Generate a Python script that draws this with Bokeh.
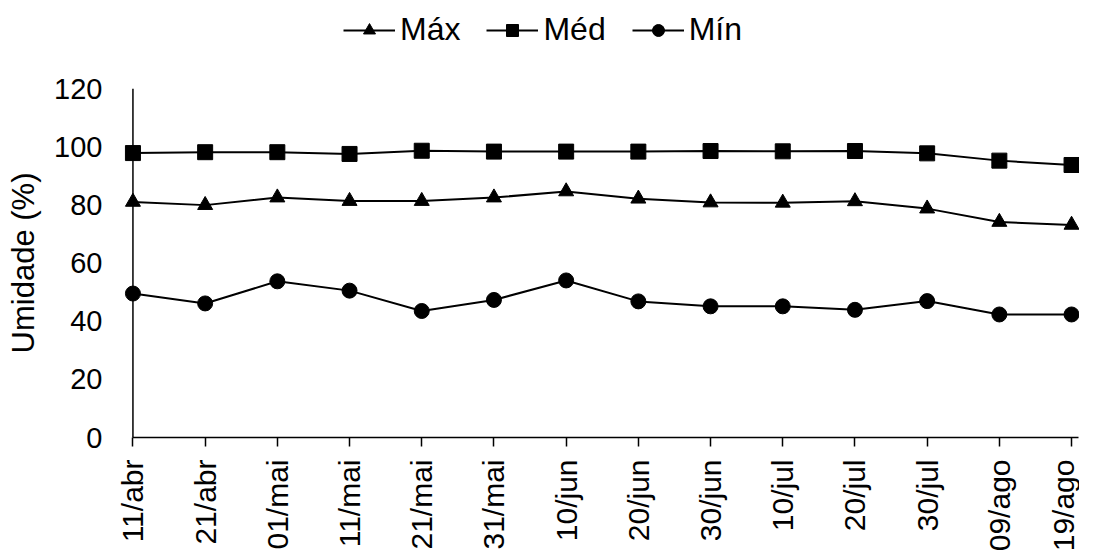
import math
from bokeh.plotting import figure
from bokeh.layouts import column
from bokeh.models import FixedTicker, Span, Legend, LegendItem, Range1d
from bokeh.embed import file_html
from bokeh.resources import INLINE

dates = ["11/abr", "21/abr", "01/mai", "11/mai", "21/mai", "31/mai", "10/jun",
         "20/jun", "30/jun", "10/jul", "20/jul", "30/jul", "09/ago", "19/ago"]
max_vals = [81.0, 79.9, 82.5, 81.3, 81.3, 82.5, 84.6, 82.1, 80.8, 80.7, 81.2, 78.7, 74.1, 73.1]
med_vals = [97.8, 98.1, 98.1, 97.5, 98.6, 98.3, 98.3, 98.3, 98.5, 98.4, 98.5, 97.7, 95.2, 93.7]
min_vals = [49.5, 46.1, 53.7, 50.5, 43.5, 47.3, 54.0, 46.8, 45.1, 45.1, 43.9, 46.9, 42.3, 42.3]
y_ticks = [0, 20, 40, 60, 80, 100, 120]
series_names = ["Máx", "Méd", "Mín"]
markers = ["triangle", "square", "circle"]
series_vals = [max_vals, med_vals, min_vals]

FONT = "Liberation Sans"
xs = list(range(len(dates)))

# ---- legend strip (its own small figure above the chart; data lies outside its view) ----
pl = figure(width=1079, height=68, output_backend="svg", toolbar_location=None,
            x_range=Range1d(-10, -9), y_range=Range1d(-10, -9),
            x_axis_location=None, y_axis_location=None, min_border=0)
pl.outline_line_color = None
pl.xgrid.visible = False
pl.ygrid.visible = False
leg_items = []
for name, mk, vals in zip(series_names, markers, series_vals):
    lr = pl.line(xs, vals, line_color="black", line_width=2)
    mr = pl.scatter(xs, vals, marker=mk, size=15, fill_color="black", line_color="black")
    leg_items.append(LegendItem(label=name, renderers=[lr, mr]))
legend = Legend(items=leg_items, orientation="horizontal", location=(225, 20),
                glyph_width=52, glyph_height=30, label_standoff=5, spacing=26,
                padding=2, margin=0, border_line_color=None, background_fill_alpha=0,
                label_text_font=FONT, label_text_font_size="32px", label_text_color="black")
pl.add_layout(legend, "center")

# ---- main chart ----
p = figure(width=1079, height=486, output_backend="svg", toolbar_location=None,
           x_range=Range1d(-0.2, 13.11), y_range=Range1d(0, 120),
           min_border_left=118, min_border_right=0, min_border_top=20, min_border_bottom=114)
p.outline_line_color = None
p.xgrid.visible = False
p.ygrid.visible = False

xa = p.xaxis[0]
xa.ticker = FixedTicker(ticks=xs)
xa.major_label_overrides = {i: d for i, d in enumerate(dates)}
xa.major_label_orientation = math.pi / 2
xa.bounds = (0, 13.1)
xa.axis_line_color = "black"
xa.axis_line_width = 1.5
xa.major_tick_line_color = "black"
xa.major_tick_line_width = 1.5
xa.major_tick_out = 9
xa.major_tick_in = 0
xa.minor_tick_out = 0
xa.minor_tick_in = 0
xa.major_label_standoff = 13
xa.major_label_text_font = FONT
xa.major_label_text_font_size = "30px"
xa.major_label_text_color = "black"

ya = p.yaxis[0]
ya.ticker = FixedTicker(ticks=y_ticks)
ya.axis_line_color = None
ya.major_tick_out = 0
ya.major_tick_in = 0
ya.minor_tick_out = 0
ya.minor_tick_in = 0
ya.major_label_standoff = 16
ya.major_label_text_font = FONT
ya.major_label_text_font_size = "29px"
ya.major_label_text_color = "black"
ya.axis_label = "Umidade (%)"
ya.axis_label_text_font = FONT
ya.axis_label_text_font_size = "31px"
ya.axis_label_text_font_style = "normal"
ya.axis_label_text_color = "black"
ya.axis_label_standoff = 10

p.add_layout(Span(location=0, dimension="height", line_color="black", line_width=1.5))

for vals, mk in zip(series_vals, markers):
    p.line(xs, vals, line_color="black", line_width=2)
    p.scatter(xs, vals, marker=mk, size=15, fill_color="black", line_color="black")

open("out.html", "w").write(file_html(column(pl, p, spacing=0), INLINE))
